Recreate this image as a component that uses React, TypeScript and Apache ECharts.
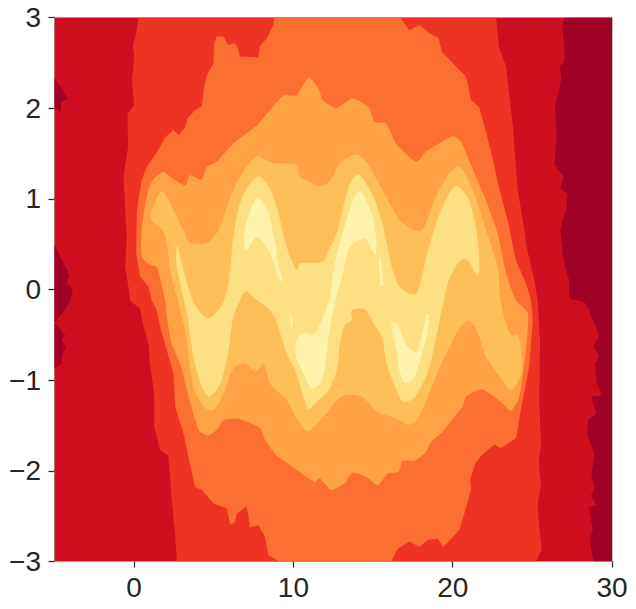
import React, { useEffect, useRef } from "react";
import * as echarts from "echarts";

type Pt = [number, number];

const xTicks = [0, 10, 20, 30];
const yTicks = [-3, -2, -1, 0, 1, 2, 3];

const fullRegion: Pt[] = [[-5, 3], [30, 3], [30, -3], [-5, -3]];

const darkRight: Pt[] = [[27.0,3],[26.86,2.88],[27.0,2.71],[27.0,2.51],[26.69,2.46],[26.82,2.33],[26.53,2.09],[26.42,2.02],[26.53,1.72],[26.40,1.37],[26.95,1.25],[26.74,1.11],[27.22,1.06],[27.15,0.91],[26.74,0.65],[26.90,0.40],[27.11,0.21],[27.32,0.10],[27.32,-0.10],[28.26,-0.14],[28.47,-0.19],[28.79,-0.34],[29.2,-0.50],[28.83,-0.63],[29.2,-0.74],[28.91,-0.82],[29.04,-1.04],[29.35,-1.17],[28.70,-1.18],[29.0,-1.37],[28.49,-1.44],[28.45,-1.61],[28.89,-1.81],[28.70,-2.07],[28.93,-2.19],[28.68,-2.27],[29.0,-2.38],[28.54,-2.40],[28.79,-2.65],[28.58,-2.75],[28.83,-3],[30,-3],[30,3]];
const darkLeftTop: Pt[] = [[-5,2.33],[-4.64,2.25],[-4.16,2.10],[-4.60,2.07],[-4.60,1.96],[-5,2.01]];
const darkLeftMid: Pt[] = [[-5,0.49],[-4.64,0.36],[-4.06,0.16],[-4.23,0.08],[-3.85,-0.01],[-4.02,-0.12],[-4.44,-0.25],[-5,-0.37],[-4.33,-0.50],[-4.58,-0.56],[-4.29,-0.63],[-4.54,-0.74],[-4.54,-0.82],[-5,-0.87]];

const level2: Pt[] = [[0.25,3],[0.13,2.82],[-0.08,2.69],[0,2.57],[-0.13,2.31],[0,2.03],[-0.42,1.94],[-0.38,1.57],[-0.67,1.24],[-0.54,0.80],[-0.46,0.58],[-0.56,0.25],[-0.36,0.03],[-0.25,-0.12],[-0.15,-0.14],[0.38,-0.21],[0.54,-0.375],[0.90,-0.60],[1.0,-0.82],[1.26,-1.15],[1.26,-1.51],[1.63,-1.77],[2.15,-1.83],[2.36,-2.32],[2.57,-2.69],[2.68,-3],[25.23,-3],[25.58,-2.87],[25.48,-2.69],[25.33,-2.40],[25.4,-2.29],[25.54,-2.16],[25.4,-1.88],[25.54,-1.735],[25.44,-1.22],[25.48,-0.56],[25.33,-0.12],[25.13,0.10],[24.64,0.47],[24.5,0.654],[24.08,1.10],[23.88,1.54],[23.77,1.81],[23.56,2.125],[23.35,2.46],[22.89,2.68],[22.82,2.82],[22.72,3]];

const level3: Pt[] = [[8.79,3],[8.74,2.92],[8.33,2.77],[7.87,2.68],[7.80,2.56],[6.65,2.57],[6.44,2.69],[6.23,2.72],[5.92,2.69],[5.61,2.79],[5.19,2.79],[5.02,2.71],[4.98,2.49],[4.56,2.36],[4.39,2.235],[4.25,2.02],[3.83,1.98],[3.35,1.89],[3.20,1.79],[2.78,1.70],[2.47,1.76],[1.95,1.68],[1.53,1.54],[0.79,1.35],[0.48,1.21],[0.27,0.985],[0.17,0.84],[0.13,0.40],[0.38,0.14],[0.90,0.03],[1.11,-0.12],[1.42,-0.23],[1.63,-0.41],[2.05,-0.67],[2.47,-0.93],[2.57,-1.29],[3.10,-1.59],[3.41,-1.85],[3.83,-2.18],[4.25,-2.21],[4.98,-2.36],[5.82,-2.415],[6.03,-2.60],[6.34,-2.56],[6.44,-2.47],[7.07,-2.39],[7.28,-2.62],[7.80,-2.60],[8.22,-2.73],[8.43,-2.93],[9.12,-3],[16.13,-3],[16.55,-2.86],[17.28,-2.78],[17.91,-2.84],[18.43,-2.76],[19.06,-2.75],[19.41,-2.84],[19.90,-2.75],[20.42,-2.65],[20.73,-2.47],[21.15,-2.21],[21.09,-2.10],[21.42,-1.92],[21.78,-1.83],[22.62,-1.71],[23.03,-1.75],[23.97,-1.64],[24.39,-1.22],[24.81,-0.85],[25.02,-0.34],[24.92,-0.12],[24.6,0.07],[23.97,0.32],[23.45,0.76],[22.93,1.11],[22.34,1.57],[21.67,2.01],[21.15,2.09],[20.84,2.35],[20.21,2.46],[19.33,2.62],[19.12,2.77],[18.43,2.84],[17.91,2.92],[17.28,2.86],[16.76,2.99],[16.65,3]];
const islandTop: Pt[] = [[17.07,2.94],[17.24,2.97],[17.38,2.94]];

const level4: Pt[] = [[10.94,2.34],[11.57,2.22],[11.84,2.09],[12.68,2.0],[13.72,2.11],[14.77,2.0],[15.08,1.85],[15.82,1.83],[16.44,1.61],[17.70,1.41],[18.33,1.52],[20.0,1.69],[20.52,1.63],[21.46,1.24],[22.09,0.985],[22.82,0.62],[23.35,0.18],[23.97,-0.12],[24.71,-0.26],[24.6,-0.67],[24.18,-1.18],[23.66,-1.34],[23.14,-1.26],[22.51,-1.17],[21.78,-1.10],[20.84,-1.18],[20.63,-1.29],[20.11,-1.40],[19.37,-1.57],[18.64,-1.68],[18.33,-1.79],[17.59,-1.89],[16.86,-1.89],[16.61,-2.01],[15.92,-2.03],[15.29,-2.16],[14.67,-2.08],[13.72,-2.02],[13.20,-2.14],[12.36,-2.21],[11.63,-2.08],[11.36,-2.13],[10.0,-1.96],[8.95,-1.83],[8.22,-1.66],[7.91,-1.53],[6.65,-1.43],[5.61,-1.44],[5.29,-1.53],[4.67,-1.61],[4.14,-1.57],[3.83,-1.44],[3.51,-1.24],[2.89,-0.82],[2.36,-0.6],[2.05,-0.30],[1.95,-0.12],[1.42,0.25],[1.0,0.27],[0.48,0.36],[0.48,0.69],[0.90,1.10],[1.21,1.22],[1.84,1.30],[2.47,1.22],[3.20,1.15],[3.51,1.26],[4.25,1.21],[4.56,1.35],[5.19,1.41],[6.23,1.61],[7.70,1.81],[9.37,2.14],[10.21,2.14]];

const level5: Pt[] = [[1.05,0.84],[1.74,1.08],[2.47,0.875],[3.10,0.65],[3.51,0.515],[4.56,0.515],[5.29,0.65],[5.82,0.91],[6.55,1.21],[7.70,1.47],[8.54,1.40],[9.58,1.39],[10.21,1.37],[10.42,1.24],[10.94,1.19],[11.42,1.15],[11.95,1.15],[12.47,1.24],[12.89,1.39],[13.93,1.49],[14.56,1.41],[15.29,1.19],[16.23,0.89],[16.76,0.75],[18.01,0.65],[18.85,0.985],[19.79,1.28],[20.41,1.35],[21.26,1.10],[22.09,0.65],[22.82,0.25],[23.0,-0.12],[23.35,-0.375],[23.66,-0.50],[24.08,-0.50],[24.29,-0.67],[24.29,-0.93],[23.66,-1.11],[23.03,-0.98],[22.09,-0.74],[21.46,-0.43],[20.94,-0.35],[20.41,-0.43],[19.89,-0.60],[19.27,-0.82],[18.64,-1.09],[17.70,-1.46],[17.17,-1.49],[16.44,-1.42],[15.29,-1.35],[14.25,-1.18],[13.0,-1.18],[12.05,-1.37],[11.42,-1.49],[10.84,-1.56],[10.21,-1.42],[9.58,-1.22],[8.54,-1.04],[8.12,-0.82],[7.59,-0.91],[6.97,-0.82],[6.23,-0.87],[5.61,-1.15],[4.98,-1.33],[4.35,-1.29],[3.72,-1.07],[3.20,-0.45],[2.74,-0.12],[2.26,0.21],[2.05,0.51],[1.80,0.65],[1.11,0.76]];

const level6: Pt[] = [[2.72,0.49],[2.99,0.29],[3.51,-0.04],[4.04,-0.23],[4.67,-0.32],[5.50,-0.17],[5.92,0.07],[6.23,0.58],[6.65,0.95],[7.28,1.17],[7.80,1.25],[8.33,1.17],[8.95,0.91],[9.58,0.47],[10.21,0.21],[10.42,0.29],[11.88,0.31],[12.2,0.43],[12.72,0.62],[13.03,0.84],[13.56,1.17],[14.08,1.27],[15.02,1.02],[15.65,0.69],[16.17,0.25],[16.59,0.05],[17.22,-0.04],[17.74,-0.04],[18.41,0.40],[19.0,0.75],[19.73,1.04],[20.29,1.14],[20.98,1.00],[21.51,0.62],[21.67,0.21],[21.51,0.15],[20.98,0.32],[20.56,0.33],[19.83,0.14],[19.41,-0.15],[19.10,-0.41],[18.47,-0.89],[17.64,-1.18],[16.90,-1.24],[16.38,-1.07],[15.86,-0.82],[15.54,-0.52],[15.02,-0.37],[14.50,-0.22],[13.66,-0.23],[13.66,-0.34],[13.24,-0.39],[12.93,-0.59],[12.72,-0.89],[12.2,-1.11],[11.46,-1.24],[10.94,-1.32],[10.63,-1.18],[10.1,-0.89],[9.58,-0.71],[9.16,-0.48],[8.64,-0.25],[7.59,-0.10],[7.03,-0.02],[6.65,-0.12],[6.23,-0.30],[5.86,-0.74],[5.40,-1.04],[4.71,-1.18],[4.25,-1.07],[3.72,-0.74],[3.31,-0.26],[2.99,-0.01],[2.64,0.32]];

const peakA: Pt[] = [[7.74,1.0],[7.38,0.91],[7.03,0.73],[6.90,0.58],[7.03,0.43],[7.70,0.58],[8.43,0.43],[8.85,0.25],[9.12,0.09],[9.27,0.10],[9.16,0.21],[8.85,0.51],[8.43,0.84],[8.01,0.97]];
const peakB: Pt[] = [[9.79,-0.23],[10.0,-0.39],[9.85,-0.43],[9.79,-0.34]];
const peakC: Pt[] = [[14.18,1.08],[14.92,0.84],[15.19,0.58],[15.13,0.38],[14.50,0.56],[13.77,0.51],[13.45,0.45],[13.14,0.21],[12.93,0.07],[12.51,-0.23],[12.2,-0.52],[11.99,-0.85],[11.67,-1.04],[11.15,-1.09],[10.63,-0.93],[10.17,-0.74],[10.21,-0.56],[10.63,-0.48],[11.26,-0.50],[11.78,-0.34],[12.3,-0.08],[12.51,0.21],[12.93,0.53],[13.35,0.77],[13.77,1.0]];
const peakD: Pt[] = [[16.17,-0.36],[16.59,-0.39],[17.0,-0.59],[17.7,-0.70],[18.16,-0.45],[18.33,-0.27],[18.51,-0.28],[18.41,-0.48],[17.95,-0.78],[17.57,-0.98],[17.0,-1.03],[16.65,-0.89],[16.49,-0.67],[16.23,-0.49]];
const peakE: Pt[] = [[15.33,0.33],[15.48,0.34],[15.65,0.05],[15.48,0.03],[15.40,0.18]];

const bandColors = ["#a10026", "#cf0f20", "#ef3323", "#fd6e33", "#fea245", "#febf5a", "#fedf83", "#fff3ac"];

const regions: { points: Pt[]; color: string; smooth: number }[] = [
  { points: fullRegion, color: bandColors[1], smooth: 0 },
  { points: darkRight, color: bandColors[0], smooth: 0 },
  { points: darkLeftTop, color: bandColors[0], smooth: 0 },
  { points: darkLeftMid, color: bandColors[0], smooth: 0 },
  { points: level2, color: bandColors[2], smooth: 0 },
  { points: level3, color: bandColors[3], smooth: 0 },
  { points: islandTop, color: bandColors[2], smooth: 0 },
  { points: level4, color: bandColors[4], smooth: 0.2 },
  { points: level5, color: bandColors[5], smooth: 0.3 },
  { points: level6, color: bandColors[6], smooth: 0.3 },
  { points: peakA, color: bandColors[7], smooth: 0.3 },
  { points: peakB, color: bandColors[7], smooth: 0 },
  { points: peakC, color: bandColors[7], smooth: 0.3 },
  { points: peakD, color: bandColors[7], smooth: 0.2 },
  { points: peakE, color: bandColors[7], smooth: 0 },
];

const textColor = "#262626";
const spineColor = "#bfbfbf";
const fontFamily = '"Liberation Sans", Arial, sans-serif';
const fmt = (v: number) => String(v).replace("-", "\u2212");

export default function App() {
  const ref = useRef<HTMLDivElement>(null);
  useEffect(() => {
    document.body.style.margin = "0";
    const chart = echarts.init(ref.current!, null, { renderer: "svg" });
    const frameAxis = {
      type: "value",
      axisLine: { show: true, onZero: false, lineStyle: { color: spineColor, width: 1 } },
      axisTick: { show: false },
      axisLabel: { show: false },
      splitLine: { show: false },
    };
    chart.setOption({
      animation: false,
      backgroundColor: "#fff",
      grid: { left: 54.5, right: 24, top: 17.5, bottom: 47.5, containLabel: false },
      xAxis: [
        {
          ...frameAxis,
          min: -5,
          max: 30,
          position: "bottom",
          axisTick: { show: true, length: 6, customValues: xTicks, lineStyle: { color: textColor, width: 1.25 } },
          axisLabel: {
            show: true,
            customValues: xTicks,
            formatter: fmt,
            margin: 12,
            fontSize: 28,
            color: textColor,
            fontFamily,
          },
        },
        { ...frameAxis, min: -5, max: 30, position: "top" },
      ],
      yAxis: [
        {
          ...frameAxis,
          min: -3,
          max: 3,
          position: "left",
          axisTick: { show: true, length: 6, customValues: yTicks, lineStyle: { color: textColor, width: 1.25 } },
          axisLabel: {
            show: true,
            customValues: yTicks,
            formatter: fmt,
            margin: 13.5,
            fontSize: 28,
            color: textColor,
            fontFamily,
          },
        },
        { ...frameAxis, min: -3, max: 3, position: "right" },
      ],
      series: [
        {
          type: "custom",
          coordinateSystem: "cartesian2d",
          clip: true,
          silent: true,
          z: 1,
          data: regions.map((_, i) => [i]),
          encode: { x: [], y: [] },
          renderItem: (params: any, api: any) => {
            const region = regions[params.dataIndex];
            return {
              type: "polygon",
              shape: { points: region.points.map((p) => api.coord(p)), smooth: region.smooth },
              style: { fill: region.color, stroke: "none" },
            };
          },
        },
      ],
    });
    return () => chart.dispose();
  }, []);
  return <div ref={ref} style={{ width: 636, height: 609 }} />;
}
